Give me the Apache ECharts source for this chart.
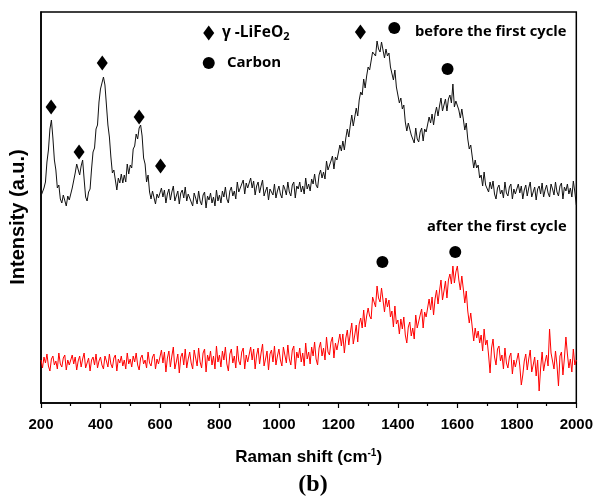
<!DOCTYPE html>
<html><head><meta charset="utf-8">
<script src="https://cdn.jsdelivr.net/npm/echarts@6/dist/echarts.min.js"></script>
<style>html,body{margin:0;padding:0;background:#fff}#c{width:596px;height:496px}</style>
</head><body><div id="c"></div>
<script>
// Raman shift grid (cm^-1): 200..2000 every 5
const shiftStart = 200, shiftStep = 5;
const xTicks = [200,400,600,800,1000,1200,1400,1600,1800,2000];

// before the first cycle (black) intensity, a.u.
const beforeCycle = [
 207,205,215,221,241,253,274,283,265,243,233,215,218,204,200,208,210,197,207,203,
 204,215,214,230,239,241,228,237,243,224,206,202,211,214,234,251,255,274,278,301,
 314,315,326,318,298,278,266,246,230,233,233,213,225,220,229,220,228,221,239,229,
 238,235,254,257,269,264,275,278,267,245,239,221,228,211,204,212,214,199,209,205,
 204,215,206,213,200,209,214,203,211,217,202,207,212,199,210,213,205,216,202,209,
 209,201,197,210,205,199,212,202,198,208,211,195,207,203,210,200,206,197,213,202,
 208,200,212,206,216,204,200,212,216,207,212,204,221,211,209,219,223,209,220,215,
 214,225,215,222,208,217,221,210,217,223,207,212,216,203,214,216,208,219,205,212,
 217,209,205,218,214,208,221,211,207,218,221,205,217,214,221,211,217,209,225,214,
 219,212,224,219,229,218,215,228,233,225,231,224,242,233,232,242,247,234,246,243,
 244,258,252,262,253,265,274,266,278,288,277,286,295,287,303,311,308,324,315,327,
 336,333,334,351,350,347,362,354,351,361,363,345,354,347,350,336,337,323,333,316,
 314,300,305,294,298,281,272,280,280,268,270,260,275,264,261,271,275,262,274,271,
 273,286,280,289,278,289,296,287,297,305,292,298,304,292,304,308,300,319,296,302,
 304,293,285,294,284,273,280,264,254,258,256,235,243,235,238,225,228,217,231,218,
 220,211,221,214,222,209,204,215,218,209,213,205,221,210,207,216,219,204,214,209,
 208,219,210,217,204,213,218,207,215,221,206,211,216,203,214,217,209,220,206,213,
 218,210,206,219,214,208,221,211,207,217,220,204,216,212,219,209,215,206,222,211,
 198
];

// after the first cycle (red) intensity, a.u.
const afterCycle = [
 43,35,46,40,49,37,32,44,47,38,42,34,50,39,36,45,48,33,43,38,
 37,48,39,46,33,42,47,36,44,50,35,40,45,32,43,46,38,49,35,42,
 46,38,34,47,42,36,49,39,35,45,48,32,44,40,47,37,43,34,50,39,
 44,36,47,41,50,38,33,45,48,39,43,35,51,40,37,46,49,34,44,39,
 37,53,40,51,31,45,52,36,47,56,34,41,49,30,46,50,38,54,35,44,
 51,40,34,53,45,37,55,41,35,50,54,31,48,42,52,38,47,34,57,41,
 48,36,52,43,56,39,32,49,54,40,47,35,57,42,38,51,55,34,48,41,
 40,56,43,54,34,48,55,39,50,59,37,44,52,33,49,53,41,57,38,47,
 54,43,37,56,48,40,58,44,38,53,57,34,51,45,55,41,50,37,60,44,
 51,39,56,47,61,44,38,55,61,47,55,43,66,51,48,61,66,45,60,53,
 52,69,57,69,50,65,73,58,70,80,59,68,78,61,79,85,75,93,76,87,
 95,87,84,106,101,96,117,105,101,115,117,91,105,96,103,86,92,76,97,79,
 83,69,84,74,86,68,60,76,81,67,75,64,88,75,73,88,94,75,91,86,
 86,104,93,106,88,104,113,99,112,123,103,112,122,105,123,129,119,137,120,131,
 137,123,113,127,114,100,112,92,80,90,89,62,75,65,72,60,68,52,74,58,
 63,48,30,55,64,46,38,54,57,42,48,34,55,40,35,46,50,29,43,36,
 34,50,37,18,28,42,49,33,44,53,31,38,46,27,43,12,35,51,32,41,
 48,37,74,50,42,34,52,38,17,47,51,28,45,66,49,35,44,31,54,38,
 43
];

// annotation marks: [shift, intensity]
const lifeo2Marks = [[234,296],[328,251],[406,340],[530,286],[602,237],[1274,371]];
const carbonMarks = [[1388,375],[1567,334],[1348,141],[1593,151]];
const legendDiamond = [[764,370]];
const legendCircle = [[764,340]];

const xs = beforeCycle.map((_, i) => shiftStart + i * shiftStep);
const blackData = beforeCycle.map((v, i) => [xs[i], v]);
const redData = afterCycle.map((v, i) => [xs[i], v]);

const chart = echarts.init(document.getElementById('c'), null, {renderer: 'canvas'});
chart.setOption({
  animation: false,
  backgroundColor: '#fff',
  grid: {left: 41, right: 19, top: 12, bottom: 93, show: true, borderColor: '#000', borderWidth: 1.5, backgroundColor: 'transparent'},
  xAxis: {
    type: 'value', min: 200, max: 2000, interval: 200,
    axisLine: {show: true, lineStyle: {color: '#000', width: 1.5}},
    axisTick: {show: true, inside: false, length: 5, lineStyle: {color: '#000', width: 1.2}},
    minorTick: {show: true, splitNumber: 2, length: 3, lineStyle: {color: '#000', width: 1.2}},
    splitLine: {show: false},
    axisLabel: {color: '#000', fontFamily: 'Liberation Sans, Arial', fontWeight: 'bold', fontSize: 15, margin: 14,
      formatter: v => String(v)},
    name: 'Raman shift (cm{sup|-1})',
    nameLocation: 'middle', nameGap: 45,
    nameTextStyle: {color: '#000', fontFamily: 'Liberation Sans, Arial', fontWeight: 'bold', fontSize: 17,
      rich: {sup: {fontSize: 10, fontWeight: 'bold', fontFamily: 'Liberation Sans, Arial', verticalAlign: 'top', padding: [0, 0, 9, 0], color: '#000'}}}
  },
  yAxis: {
    type: 'value', min: 0, max: 391,
    axisLine: {show: true, lineStyle: {color: '#000', width: 1.5}},
    axisTick: {show: false}, axisLabel: {show: false}, splitLine: {show: false}
  },
  series: [
    {type: 'line', data: blackData, symbol: 'none', lineStyle: {color: '#111', width: 1}, z: 3},
    {type: 'line', data: redData, symbol: 'none', lineStyle: {color: '#ff0000', width: 1}, z: 3},
    {type: 'scatter', data: lifeo2Marks.concat(legendDiamond), symbol: 'diamond', symbolSize: [11, 15], itemStyle: {color: '#000', opacity: 1}, z: 4},
    {type: 'scatter', data: carbonMarks.concat(legendCircle), symbol: 'circle', symbolSize: 12, itemStyle: {color: '#000', opacity: 1}, z: 4}
  ],
  graphic: [
    {type: 'text', x: 18, y: 217, rotation: Math.PI / 2,
      style: {text: 'Intensity (a.u.)', fill: '#000', font: 'bold 20px "Liberation Sans", Arial', align: 'center', verticalAlign: 'middle'}},
    {type: 'text', x: 222, y: 33, style: {text: 'γ -LiFeO{sub|2}', fill: '#000', font: 'bold 15.5px "Open Sans"', align: 'left', verticalAlign: 'middle',
      rich: {sub: {fontSize: 11, fontWeight: 'bold', fontFamily: 'Open Sans', verticalAlign: 'bottom', padding: [7, 0, 0, 0], fill: '#000'}}}},
    {type: 'text', x: 227, y: 63, style: {text: 'Carbon', fill: '#000', font: 'bold 15px "Open Sans"', align: 'left', verticalAlign: 'middle'}},
    {type: 'text', x: 415, y: 32, style: {text: 'before the first cycle', fill: '#000', font: 'bold 14.7px "Open Sans"', align: 'left', verticalAlign: 'middle'}},
    {type: 'text', x: 427, y: 227, style: {text: 'after the first cycle', fill: '#000', font: 'bold 14.7px "Open Sans"', align: 'left', verticalAlign: 'middle'}},
    {type: 'text', x: 313, y: 485, style: {text: '(b)', fill: '#000', font: 'bold 24px "Liberation Serif", "Times New Roman", serif', align: 'center', verticalAlign: 'middle'}}
  ]
});
</script>
</body></html>
